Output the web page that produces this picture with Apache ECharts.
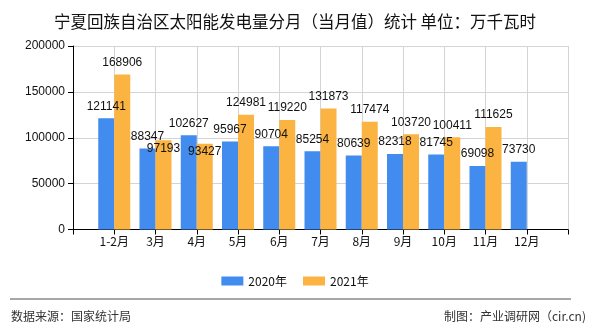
<!DOCTYPE html>
<html>
<head>
<meta charset="utf-8">
<script src="https://cdn.jsdelivr.net/npm/echarts@6/dist/echarts.min.js"></script>
<style>
html,body{margin:0;padding:0;background:#fff;}
#chart{width:590px;height:330px;}
</style>
</head>
<body>
<div id="chart"></div>
<script>
const titleText = '宁夏回族自治区太阳能发电量分月（当月值）统计 单位：万千瓦时';
const categories = ['1-2月','3月','4月','5月','6月','7月','8月','9月','10月','11月','12月'];
const seriesNames = ['2020年','2021年'];
const values2020 = [121141, 88347, 102627, 95967, 90704, 85254, 80639, 82318, 81745, 69098, 73730];
const values2021 = [168906, 97193, 93427, 124981, 119220, 131873, 117474, 103720, 100411, 111625, null];
const yTicks = {min: 0, max: 200000, interval: 50000};
const sourceText = '数据来源：国家统计局';
const makerText = '制图：产业调研网（cir.cn)';

// label nudges (styling only) for labels that were pushed below bar tops in the reference
const shiftDown2021 = {1: 20, 2: 20};

const cjk = '"Noto Sans CJK SC", "Liberation Sans", sans-serif';
const num = '"Liberation Sans", "Noto Sans", sans-serif';

function build(vals, shift) {
  const out = ['-'];
  vals.forEach((v, i) => {
    if (v == null) { out.push('-'); return; }
    const item = {value: v};
    if (shift && shift[i]) item.label = {offset: [0, shift[i]]};
    out.push(item);
  });
  out.push('-');
  return out;
}

const chart = echarts.init(document.getElementById('chart'), null, {renderer: 'canvas'});
chart.setOption({
  animation: false,
  backgroundColor: '#ffffff',
  title: {
    text: titleText,
    left: 'center',
    top: 8,
    textStyle: {fontFamily: cjk, fontSize: 16.5, fontWeight: 'normal', color: '#111'}
  },
  legend: {
    data: seriesNames,
    left: 'center',
    top: 270,
    itemWidth: 22,
    itemHeight: 9,
    itemGap: 16,
    icon: 'rect',
    textStyle: {fontFamily: cjk, fontSize: 12, color: '#111'}
  },
  grid: {left: 73, right: 22, top: 46, bottom: 100.5, containLabel: false},
  xAxis: {
    type: 'category',
    data: [''].concat(categories, ['']),
    boundaryGap: false,
    axisLine: {lineStyle: {color: '#000', width: 1}},
    axisTick: {show: true, length: 5, interval: 0, lineStyle: {color: '#000'}},
    axisLabel: {interval: 0, fontFamily: cjk, fontSize: 12, color: '#111', margin: 6},
    splitLine: {show: true, interval: 0, lineStyle: {color: '#d4d4d4', width: 1}}
  },
  yAxis: {
    type: 'value',
    min: yTicks.min,
    max: yTicks.max,
    interval: yTicks.interval,
    axisLine: {show: true, lineStyle: {color: '#000', width: 1}},
    axisTick: {show: true, length: 5, lineStyle: {color: '#000'}},
    axisLabel: {fontFamily: num, fontSize: 12, color: '#111', margin: 8, formatter: v => String(v)},
    splitLine: {show: true, lineStyle: {color: '#d4d4d4', width: 1}}
  },
  series: [
    {
      name: seriesNames[0],
      type: 'bar',
      barWidth: 16,
      barGap: '0%',
      itemStyle: {color: '#418CEE'},
      label: {show: true, position: 'top', distance: 6, fontFamily: num, fontSize: 12, color: '#111'},
      data: build(values2020)
    },
    {
      name: seriesNames[1],
      type: 'bar',
      barWidth: 16,
      barGap: '0%',
      itemStyle: {color: '#FBB342'},
      label: {show: true, position: 'top', distance: 6, fontFamily: num, fontSize: 12, color: '#111'},
      data: build(values2021, shiftDown2021)
    }
  ],
  graphic: [
    {type: 'line', shape: {x1: 10, y1: 299, x2: 571, y2: 299}, style: {stroke: '#8a8a8a', lineWidth: 1.5}},
    {type: 'text', left: 11, top: 310, style: {text: sourceText, font: '12px ' + cjk, fill: '#333'}},
    {type: 'text', right: 4, top: 310, style: {text: makerText, font: '12px ' + cjk, fill: '#333'}}
  ]
});
</script>
</body>
</html>
